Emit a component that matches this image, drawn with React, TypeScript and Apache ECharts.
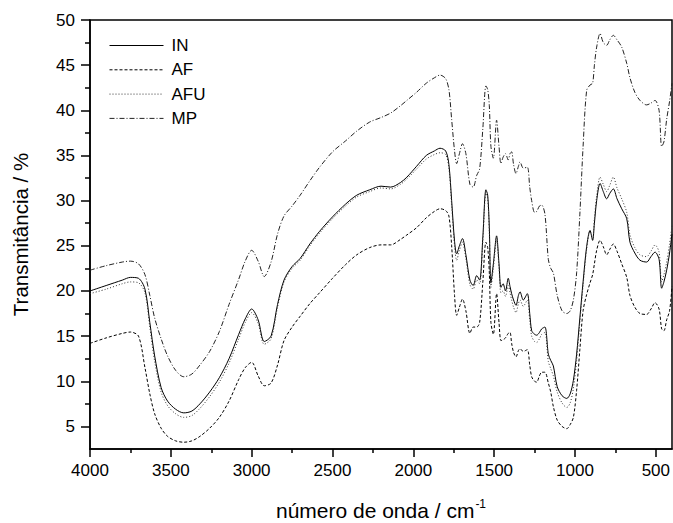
import React, { useEffect, useRef } from "react";
import * as echarts from "echarts";

const wavenumbers = [
  4000, 3900, 3800, 3750, 3700, 3660, 3630, 3600, 3560, 3520, 3470, 3420, 3370, 3320, 3260, 3200,
  3140, 3080, 3040, 3000, 2960, 2922, 2880, 2840, 2800, 2750, 2700, 2640, 2580, 2500, 2420, 2350,
  2270, 2200, 2140, 2080, 2040, 1980, 1920, 1870, 1835, 1800, 1780, 1763, 1745, 1732, 1715, 1696,
  1675, 1650, 1630, 1608, 1590, 1570, 1551, 1540, 1530, 1520, 1505, 1485, 1470, 1458, 1445, 1430,
  1413, 1402, 1392, 1380, 1365, 1350, 1340, 1320, 1295, 1280, 1268, 1250, 1237, 1220, 1206, 1186,
  1165, 1150, 1134, 1110, 1080, 1051, 1030, 1010, 990, 970, 950, 928, 907, 891, 880, 866,
  845, 825, 804, 785, 763, 740, 711, 680, 660, 630, 598, 557, 530, 505, 480, 464,
  450, 433, 415, 400,
];

const seriesIN = [
  20.0, 20.6, 21.2, 21.5, 21.4, 20.2, 16.5, 12.8, 9.3, 7.8, 6.9, 6.5, 6.7, 7.5, 8.8, 10.4,
  12.5, 15.2, 16.9, 18.0, 16.8, 14.4, 15.0, 18.5, 21.2, 22.7, 23.6, 25.2, 26.6, 28.2, 29.6, 30.6,
  31.2, 31.6, 31.5, 32.0, 32.6, 33.8, 35.0, 35.5, 35.8, 35.5, 34.0, 30.0, 25.5, 24.1, 25.0, 25.8,
  24.0, 21.2, 20.6, 21.7, 21.2, 26.0, 31.2, 30.6, 27.0, 20.9, 23.0, 26.1, 23.0, 20.4, 20.8, 20.0,
  21.4, 20.5, 19.7, 19.0, 18.4, 19.5, 19.9, 19.0, 19.7, 17.5, 15.6, 15.2, 15.1, 15.4, 15.8, 16.0,
  13.0, 12.3, 11.7, 9.4, 8.4, 8.1, 8.6, 10.1, 13.0, 17.0, 21.0, 24.9, 26.7, 25.6, 27.5, 30.0,
  31.9, 31.0, 30.2, 30.8, 31.3, 30.2, 29.1, 28.0, 25.4, 24.2, 23.4, 23.2, 23.8, 24.3, 23.5, 20.3,
  21.0, 22.3, 24.2, 26.3,
];

const seriesAF = [
  14.2, 14.8, 15.3, 15.45, 15.0, 11.5, 8.6, 6.4, 4.8, 3.9, 3.4, 3.25, 3.4, 3.9, 4.8, 6.0,
  7.8, 10.2, 11.5, 12.1, 10.6, 9.5, 9.8, 11.8, 14.5, 16.0, 17.2, 18.6, 19.8, 21.4, 22.9, 24.0,
  24.8, 25.1, 25.1, 25.7, 26.2, 27.0, 28.1, 28.8, 29.1, 28.9, 28.3, 25.0, 19.5, 17.3, 18.2, 19.1,
  17.8, 15.3, 16.0, 16.0, 16.5, 21.0, 25.4, 24.8, 22.0, 16.5, 15.2, 19.7, 16.5, 14.5, 14.6, 14.8,
  15.3, 15.4, 14.2, 13.2, 12.7, 13.4, 13.6, 13.3, 13.5, 11.8, 10.5, 10.0, 9.9, 10.6, 11.0, 11.0,
  9.8, 8.8, 7.2, 5.7, 5.0, 4.75, 5.2, 6.0, 9.0, 13.5, 17.8, 19.6, 20.9, 21.8, 23.0, 24.5,
  25.6, 24.9, 24.0, 24.6, 25.2, 24.4, 23.0, 21.5, 19.5, 18.2, 17.5, 17.4, 18.0, 18.7, 18.0, 15.8,
  15.6, 16.8, 17.8, 20.5,
];

const seriesAFU = [
  19.7, 20.2, 20.8, 21.0, 20.9, 19.8, 16.0, 12.2, 8.8, 7.3, 6.4, 6.0, 6.2, 7.0, 8.3, 9.9,
  12.0, 14.7, 16.5, 17.6, 16.4, 14.1, 14.7, 18.2, 21.0, 22.5, 23.4, 25.0, 26.4, 28.0, 29.4, 30.4,
  31.0, 31.4, 31.3, 31.8, 32.4, 33.5, 34.6, 35.1, 35.3, 35.1, 33.6, 29.5, 25.0, 23.4, 24.5, 25.4,
  23.6, 20.7, 20.2, 21.2, 20.8, 25.5, 30.8, 30.3, 26.5, 20.4, 22.5, 25.6, 22.5, 19.8, 20.0, 19.4,
  20.6, 19.8, 19.0, 18.2, 17.6, 18.6, 19.0, 18.3, 19.0, 16.8, 15.0, 14.4, 14.3, 14.7, 15.2, 15.4,
  12.2, 11.4, 10.6, 8.8, 7.6, 7.1, 7.6, 9.2, 12.3, 16.5, 20.6, 24.6, 26.6, 25.8, 28.0, 30.5,
  32.6, 31.8, 31.0, 31.7, 32.6, 31.4, 30.2, 28.7, 26.2, 24.8, 24.0, 23.8, 24.4, 25.1, 24.3, 21.0,
  21.8, 23.2, 25.2, 27.2,
];

const seriesMP = [
  22.3, 22.8, 23.2, 23.3, 23.0, 21.8, 19.5, 17.0, 14.7, 12.8, 11.2, 10.5, 10.8, 11.8, 13.3, 15.5,
  18.5, 21.3, 23.3, 24.5, 23.3, 21.6, 23.2, 26.3, 28.3, 29.4, 30.6, 32.2, 33.7, 35.4, 36.6, 37.7,
  38.7, 39.2, 39.7, 40.5, 41.1, 42.0, 43.0, 43.6, 43.9, 43.5, 42.3, 39.0, 35.5, 34.1, 35.2, 36.3,
  35.2, 31.8, 31.5, 32.8, 33.5, 38.0, 42.7, 42.3, 40.5, 36.0, 34.7, 38.9, 36.0, 34.1, 34.8, 35.2,
  34.5, 35.2, 35.4, 34.0, 33.0, 33.8, 34.3, 33.6, 33.7, 31.5, 30.0, 28.7, 28.8, 29.4, 29.5, 28.5,
  23.5, 22.5, 22.0, 19.5, 17.8, 17.5, 17.8, 19.0, 22.0, 28.5, 36.0, 42.2, 42.8, 43.0, 45.0, 47.0,
  48.5, 47.5, 47.2, 47.8, 48.3, 47.8, 47.0, 45.2, 43.6, 42.0, 41.1, 40.6, 40.8, 41.1, 40.0, 36.0,
  36.5, 39.0, 41.0, 43.0,
];

const xMajorTicks = [500, 1000, 1500, 2000, 2500, 3000, 3500, 4000];
const xMinorTicks = [750, 1250, 1750, 2250, 2750, 3250, 3750];
const yMajorTicks = [5, 10, 15, 20, 25, 30, 35, 40, 45, 50];
const yMinorTicks = [7.5, 12.5, 17.5, 22.5, 27.5, 32.5, 37.5, 42.5, 47.5];

const FONT = "'Liberation Sans', Arial, sans-serif";

export default function App() {
  const ref = useRef<HTMLDivElement>(null);
  useEffect(() => {
    if (!ref.current) return;
    const chart = echarts.init(ref.current, null, { renderer: "svg" });
    const pair = (ys: number[]) => wavenumbers.map((w, i) => [w, ys[i]]);
    const gridRect = { left: 90, right: 1, top: 20, bottom: 74, outerBoundsMode: "none", containLabel: false };
    const mk = (name: string, ys: number[], type: any, color: string) => ({
      name,
      type: "line",
      data: pair(ys),
      symbol: "none",
      smooth: 0.3,
      xAxisIndex: 0,
      yAxisIndex: 0,
      lineStyle: { color, width: 1, type },
      itemStyle: { color },
    });
    chart.setOption({
      animation: false,
      textStyle: { fontFamily: FONT },
      grid: [
        { ...gridRect, show: true, borderColor: "#000", borderWidth: 1.5, backgroundColor: "transparent" },
        { ...gridRect },
      ],
      legend: {
        orient: "vertical",
        left: 104,
        top: 32,
        itemWidth: 54,
        itemHeight: 12,
        itemGap: 7.3,
        itemStyle: { opacity: 0, color: "transparent", borderWidth: 0 },
        lineStyle: { width: 1 },
        textStyle: { fontSize: 17, color: "#000", fontFamily: FONT, padding: [0, 0, 0, 3] },
        data: ["IN", "AF", "AFU", "MP"],
      },
      xAxis: [
        {
          type: "value",
          gridIndex: 0,
          inverse: true,
          min: 400,
          max: 4000,
          axisLine: { lineStyle: { color: "#000", width: 1.5 } },
          axisTick: { customValues: xMajorTicks, length: 8, lineStyle: { color: "#000", width: 1.5 } },
          axisLabel: {
            customValues: xMajorTicks,
            formatter: (v: number) => String(v),
            fontSize: 17,
            color: "#000",
            margin: 13,
            fontFamily: FONT,
          },
          splitLine: { show: false },
          name: "número de onda / cm{sup|-1}",
          nameLocation: "middle",
          nameGap: 49,
          nameTextStyle: {
            fontSize: 21,
            color: "#000",
            fontFamily: FONT,
            lineHeight: 24,
            rich: { sup: { fontSize: 12, lineHeight: 24, verticalAlign: "top", color: "#000", fontFamily: FONT, padding: [0, 0, 12, 1] } },
          },
        },
        {
          type: "value",
          gridIndex: 1,
          inverse: true,
          min: 400,
          max: 4000,
          axisLine: { show: false },
          axisTick: { customValues: xMinorTicks, length: 4, lineStyle: { color: "#000", width: 1.5 } },
          axisLabel: { show: false },
          splitLine: { show: false },
        },
      ],
      yAxis: [
        {
          type: "value",
          gridIndex: 0,
          min: 2.5,
          max: 50,
          axisLine: { show: true, lineStyle: { color: "#000", width: 1.5 } },
          axisTick: { show: true, customValues: yMajorTicks, length: 9, lineStyle: { color: "#000", width: 1.5 } },
          axisLabel: { customValues: yMajorTicks, fontSize: 17, color: "#000", margin: 15, fontFamily: FONT },
          splitLine: { show: false },
          name: "Transmitância / %",
          nameLocation: "middle",
          nameGap: 59,
          nameTextStyle: { fontSize: 20.5, color: "#000", fontFamily: FONT },
        },
        {
          type: "value",
          gridIndex: 1,
          min: 2.5,
          max: 50,
          axisLine: { show: false },
          axisTick: { show: true, customValues: yMinorTicks, length: 5, lineStyle: { color: "#000", width: 1.5 } },
          axisLabel: { show: false },
          splitLine: { show: false },
        },
      ],
      series: [
        mk("IN", seriesIN, "solid", "#000"),
        mk("AF", seriesAF, [3, 2], "#000"),
        mk("AFU", seriesAFU, [1, 2], "#333"),
        mk("MP", seriesMP, [5, 2, 1, 2], "#222"),
      ],
    });
    return () => chart.dispose();
  }, []);
  return <div ref={ref} style={{ width: 673, height: 523, position: "absolute", left: 0, top: 0 }} />;
}
